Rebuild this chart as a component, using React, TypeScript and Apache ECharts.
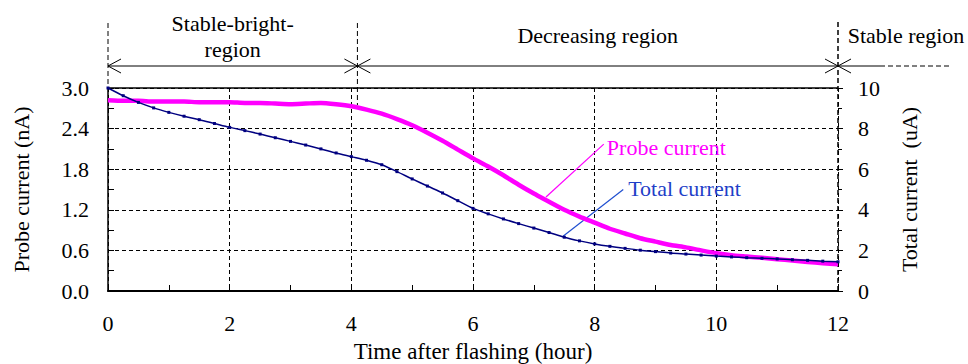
import React, { useEffect, useRef } from "react";
import * as echarts from "echarts";

const hours = [
  0, 0.25, 0.5, 0.75, 1, 1.25, 1.5, 1.75, 2, 2.25, 2.5, 2.75, 3, 3.25, 3.5, 3.75,
  4, 4.25, 4.5, 4.75, 5, 5.25, 5.5, 5.75, 6, 6.25, 6.5, 6.75, 7, 7.25, 7.5, 7.75,
  8, 8.25, 8.5, 8.75, 9, 9.25, 9.5, 9.75, 10, 10.25, 10.5, 10.75, 11, 11.25, 11.5, 11.75, 12,
];

// Probe current (nA), left axis
const probeCurrent = [
  2.82, 2.81, 2.81, 2.8, 2.8, 2.8, 2.79, 2.79, 2.79, 2.78, 2.78, 2.77, 2.76, 2.77, 2.78, 2.76,
  2.73, 2.68, 2.62, 2.54, 2.45, 2.34, 2.22, 2.09, 1.96, 1.84, 1.71, 1.57, 1.44, 1.32, 1.2, 1.1,
  1.01, 0.92, 0.85, 0.78, 0.73, 0.68, 0.645, 0.6, 0.56, 0.53, 0.51, 0.49, 0.47, 0.45, 0.43, 0.41, 0.395,
];

// Total current (uA), right axis
const totalCurrent = [
  10.0, 9.62, 9.29, 9.02, 8.8, 8.61, 8.44, 8.25, 8.06, 7.9, 7.73, 7.55, 7.37, 7.19, 7.0, 6.8,
  6.62, 6.44, 6.22, 5.88, 5.52, 5.17, 4.83, 4.45, 4.07, 3.8, 3.55, 3.32, 3.1, 2.88, 2.65, 2.47,
  2.32, 2.2, 2.1, 2.01, 1.94, 1.87, 1.82, 1.77, 1.72, 1.68, 1.64, 1.61, 1.58, 1.54, 1.51, 1.47, 1.44,
];

const xTicks = [0, 2, 4, 6, 8, 10, 12];
const leftTicks = ["0.0", "0.6", "1.2", "1.8", "2.4", "3.0"];
const rightTicks = ["0", "2", "4", "6", "8", "10"];

const regionBounds = [0, 4.1, 12];
const regionLabels = ["Stable-bright-\nregion", "Decreasing region", "Stable region"];

const FONT = '"Liberation Serif", "Times New Roman", serif';

export default function App() {
  const ref = useRef<HTMLDivElement>(null);

  useEffect(() => {
    document.body.style.margin = "0";
    const chart = echarts.init(ref.current!, null, { renderer: "svg" });
    const probeData = hours.map((h, i) => [h, probeCurrent[i]]);
    const totalData = hours.map((h, i) => [h, totalCurrent[i]]);

    chart.setOption({
      animation: false,
      textStyle: { fontFamily: FONT },
      grid: { left: 108, top: 88, width: 730, height: 203, containLabel: false, outerBoundsMode: "none" },
      xAxis: {
        type: "value",
        min: xTicks[0],
        max: xTicks[xTicks.length - 1],
        interval: 2,
        name: "Time after flashing (hour)",
        nameLocation: "middle",
        nameGap: 49,
        nameTextStyle: { fontFamily: FONT, fontSize: 23, color: "#000" },
        axisLine: { lineStyle: { color: "#000", width: 2 } },
        axisTick: { inside: true, length: 6, lineStyle: { color: "#000" } },
        minorTick: { show: true, splitNumber: 2, length: 6, lineStyle: { color: "#000" } },
        axisLabel: { fontFamily: FONT, fontSize: 22, color: "#000", margin: 21 },
        splitLine: { show: true, lineStyle: { color: "#000", type: [4, 3], width: 1 } },
      },
      yAxis: [
        {
          type: "value",
          min: 0,
          max: 3,
          interval: 0.6,
          name: "Probe current (nA)",
          nameLocation: "middle",
          nameRotate: 90,
          nameGap: 76,
          nameTextStyle: { fontFamily: FONT, fontSize: 22, color: "#000" },
          axisLine: { show: true, lineStyle: { color: "#000", width: 1.5 } },
          axisTick: { show: true, inside: true, length: 6, lineStyle: { color: "#000" } },
          minorTick: { show: true, splitNumber: 2, length: 6, lineStyle: { color: "#000" } },
          axisLabel: {
            fontFamily: FONT,
            fontSize: 22,
            color: "#000",
            margin: 19,
            formatter: (v: number) => leftTicks[Math.round(v / 0.6)] ?? v.toFixed(1),
          },
          splitLine: { show: true, lineStyle: { color: "#000", type: [4, 3], width: 1 } },
        },
        {
          type: "value",
          min: 0,
          max: 10,
          interval: 2,
          position: "right",
          name: "Total current  (uA)",
          nameLocation: "middle",
          nameRotate: 90,
          nameGap: 60,
          nameTextStyle: { fontFamily: FONT, fontSize: 22, color: "#000" },
          axisLine: { show: false },
          axisTick: { show: true, inside: false, length: 5, lineStyle: { color: "#000" } },
          minorTick: { show: true, splitNumber: 2, length: 4, lineStyle: { color: "#000" } },
          axisLabel: {
            fontFamily: FONT,
            fontSize: 22,
            color: "#000",
            margin: 20,
            formatter: (v: number) => rightTicks[Math.round(v / 2)] ?? String(v),
          },
          splitLine: { show: false },
        },
      ],
      series: [
        {
          name: "Total current",
          type: "line",
          yAxisIndex: 1,
          data: totalData,
          smooth: 0.3,
          symbol: "rect",
          symbolSize: 3,
          showSymbol: true,
          lineStyle: { color: "#000080", width: 1.5 },
          itemStyle: { color: "#000080" },
          z: 3,
        },
        {
          name: "Probe current",
          type: "line",
          yAxisIndex: 0,
          data: probeData,
          smooth: 0.2,
          symbol: "none",
          lineStyle: { color: "#ff00ff", width: 4.5 },
          z: 2,
        },
      ],
    });

    const px = (x: number, y: number) =>
      chart.convertToPixel({ xAxisIndex: 0, yAxisIndex: 0 }, [x, y]) as number[];

    const [x0, yTop] = px(regionBounds[0], 3);
    const [x1] = px(regionBounds[1], 3);
    const [x2, yBot] = px(regionBounds[2], 0);
    const arrowY = 66;
    const lineTop = 23;
    const black = { stroke: "#000", lineWidth: 1 };
    const dashed = { stroke: "#000", lineWidth: 1, lineDash: [5, 3] };
    const chevL = (x: number) => ({
      type: "polyline",
      shape: { points: [[x + 13, arrowY - 7], [x, arrowY], [x + 13, arrowY + 7]] },
      style: { ...black, fill: "none" },
    });
    const chevR = (x: number) => ({
      type: "polyline",
      shape: { points: [[x - 13, arrowY - 7], [x, arrowY], [x - 13, arrowY + 7]] },
      style: { ...black, fill: "none" },
    });
    const txt = (x: number, y: number, text: string, color = "#000", align = "center") => ({
      type: "text",
      x,
      y,
      style: {
        text,
        fill: color,
        font: `22px ${FONT}`,
        align,
        verticalAlign: "middle",
        lineHeight: 26,
      },
    });

    // annotation anchors in data coordinates
    const pA = px(7.2, 1.39);
    const pB = px(8.15, 2.17);
    const tA = px(8.2, 2.12);
    const qA = px(7.48, 0.81);
    const qB = px(8.47, 1.5);
    const tB = px(8.55, 1.52);

    chart.setOption({
      graphic: [
        { type: "line", shape: { x1: x0, y1: yTop, x2: x2, y2: yTop }, style: { stroke: "#000", lineWidth: 1.5 } },
        { type: "line", shape: { x1: x0, y1: lineTop, x2: x0, y2: yTop }, style: dashed },
        { type: "line", shape: { x1: x1, y1: lineTop, x2: x1, y2: yTop + 17 }, style: dashed },
        { type: "line", shape: { x1: x2, y1: lineTop - 1, x2: x2, y2: yBot }, style: { ...dashed, lineWidth: 1.5 } },
        { type: "line", shape: { x1: x0, y1: arrowY, x2: x1, y2: arrowY }, style: black },
        chevL(x0),
        chevR(x1),
        { type: "line", shape: { x1: x1, y1: arrowY, x2: x2, y2: arrowY }, style: black },
        chevL(x1),
        chevR(x2),
        { type: "line", shape: { x1: x2, y1: arrowY, x2: x2 + 42, y2: arrowY }, style: black },
        chevL(x2),
        { type: "line", shape: { x1: x2 + 42, y1: arrowY, x2: 950, y2: arrowY }, style: dashed },
        txt((x0 + x1) / 2, 36, regionLabels[0]),
        txt((x1 + x2) / 2, 35, regionLabels[1]),
        txt(906, 35, regionLabels[2]),
        { type: "line", shape: { x1: pA[0], y1: pA[1], x2: pB[0], y2: pB[1] }, style: { stroke: "#ff00ff", lineWidth: 1.2 } },
        txt(tA[0], tA[1], "Probe current", "#ff00ff", "left"),
        { type: "line", shape: { x1: qA[0], y1: qA[1], x2: qB[0], y2: qB[1] }, style: { stroke: "#1f4fd0", lineWidth: 1.2 } },
        txt(tB[0], tB[1], "Total current", "#1f3fc8", "left"),
      ],
    });

    return () => chart.dispose();
  }, []);

  return (
    <div
      ref={ref}
      style={{ position: "absolute", left: 0, top: 0, width: 968, height: 364 }}
    />
  );
}
